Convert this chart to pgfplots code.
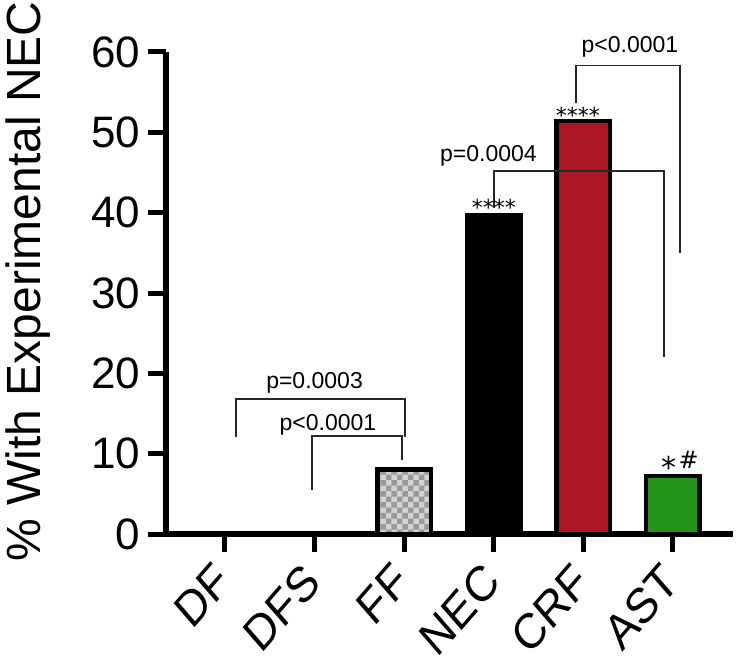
\documentclass[border=0pt]{standalone}
\usepackage{fontspec}
\setmainfont{Liberation Sans}
\newfontfamily\djv{DejaVu Sans}
\usepackage{pgfplots}
\pgfplotsset{compat=1.18}
\usetikzlibrary{patterns}
\definecolor{crfred}{HTML}{AC1622}
\definecolor{astgreen}{HTML}{23931A}
\begin{document}
\begin{tikzpicture}
\path[use as bounding box] (-166pt,-125pt) rectangle (571pt,534pt);
\begin{axis}[
  at={(0pt,0pt)}, anchor=south west,
  scale only axis, width=567pt, height=482pt,
  xmin=-0.658, xmax=5.67, ymin=0, ymax=60,
  axis x line*=bottom, axis y line*=left,
  axis line style={line width=6pt, -},
  xtick={0,...,5}, xticklabels={DF,DFS,FF,NEC,CRF,AST},
  ytick={0,10,...,60},
  minor tick num=0,
  tick align=outside, major tick length=18pt,
  tick style={line width=5pt, black},
  /pgf/number format/assume math mode=true,
  yticklabel style={font=\fontsize{44}{48}\selectfont, xshift=-4pt},
  xticklabel style={font=\fontsize{43}{46}\selectfont, inner sep=0pt, yshift=-8pt, xshift=-13pt, yscale=1.15, rotate=45, anchor=north east},
  ylabel={\% With Experimental NEC},
  ylabel style={font=\fontsize{48}{52}\selectfont, at={(rel axis cs:-0.244,0.524)}, anchor=center},
  ybar, bar width=53.5pt, bar shift=0pt,
  clip=false,
]
\addplot[fill=white, draw=black, line width=4.5pt] coordinates {(0,0) (1,0)};
\addplot[preaction={fill=gray!35}, pattern=checkerboard, pattern color=gray!80, draw=black, line width=4.5pt] coordinates {(2,8.05)};
\addplot[fill=black, draw=black, line width=4.5pt] coordinates {(3,39.7)};
\addplot[fill=crfred, draw=black, line width=4.5pt] coordinates {(4,51.4)};
\addplot[fill=astgreen, draw=black, line width=4.5pt] coordinates {(5,7.2)};

% brackets
\draw[line width=1.5pt, black!85] (axis cs:3.92,53.7) |- (axis cs:5.08,58.3) -- (axis cs:5.08,35.0);
\draw[line width=1.5pt, black!85] (axis cs:3.0,40.6) |- (axis cs:4.90,45.2) -- (axis cs:4.90,22.0);
\draw[line width=1.5pt, black!85] (axis cs:0.123,12.1) |- (axis cs:2.01,16.8) -- (axis cs:2.01,12.1);
\draw[line width=1.5pt, black!85] (axis cs:0.971,5.48) |- (axis cs:1.975,12.2) -- (axis cs:1.975,9.2);

\node[font=\fontsize{23}{25}\selectfont, anchor=base, inner sep=0pt] at (axis cs:4.52,59.9) {p<0.0001};
\node[font=\fontsize{23}{25}\selectfont, anchor=base, inner sep=0pt] at (axis cs:2.94,46.4) {p=0.0004};
\node[font=\fontsize{23}{25}\selectfont, anchor=base, inner sep=0pt] at (axis cs:1.0,18.15) {p=0.0003};
\node[font=\fontsize{23}{25}\selectfont, anchor=base, inner sep=0pt] at (axis cs:1.15,12.83) {p<0.0001};

\node[font=\djv\fontsize{22}{24}\selectfont, anchor=base, inner sep=0pt] at (axis cs:3.0,39.65) {****};
\node[font=\djv\fontsize{22}{24}\selectfont, anchor=base, inner sep=0pt] at (axis cs:3.94,51.1) {****};
\node[anchor=base, inner sep=0pt] at (axis cs:5.08,8.2) {\raisebox{-10.5pt}{\djv\fontsize{30}{30}\selectfont *}\hspace{2pt}{\djv\fontsize{24}{24}\selectfont\#}};
\end{axis}
\end{tikzpicture}
\end{document}
